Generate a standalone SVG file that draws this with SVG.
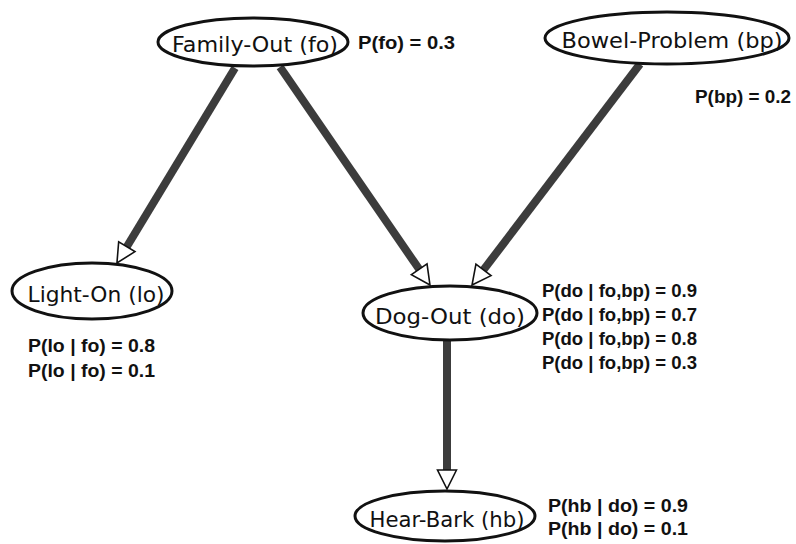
<svg xmlns="http://www.w3.org/2000/svg" width="796" height="544" viewBox="0 0 796 544">
<defs>
<marker id="arr" markerUnits="userSpaceOnUse" markerWidth="24" markerHeight="24" viewBox="-2 -12 24 24" refX="0" refY="0" orient="auto">
<path d="M0,-9.5 L19,0 L0,9.5 Z" fill="#ffffff" stroke="#111111" stroke-width="1.6" stroke-linejoin="miter"/>
</marker>
</defs>
<style>
.node ellipse{fill:#ffffff;stroke:#111111;stroke-width:3}
.lbl{font-family:"DejaVu Sans",Verdana,sans-serif;font-size:22px;fill:#111111;text-anchor:middle}
.p{font-family:"Liberation Sans",Arial,sans-serif;font-size:19px;font-weight:bold;fill:#111111}
.edge{stroke:#3c3c3c;stroke-width:8;fill:none;marker-end:url(#arr)}
</style>
<rect width="796" height="544" fill="#ffffff"/>
<g id="connectors">
<path class="edge" d="M235,68 L126.8,246.7"/>
<path class="edge" d="M280,67 L419.2,269.3"/>
<path class="edge" d="M640,64 L483.5,269.9"/>
<path class="edge" d="M447,340 L447,470"/>
</g>
<g id="node-fo" class="node">
<ellipse cx="253" cy="42" rx="95" ry="24"/>
<text class="lbl" x="255" y="52" textLength="166" lengthAdjust="spacingAndGlyphs">Family-Out (fo)</text>
</g>
<g id="node-bp" class="node">
<ellipse cx="667" cy="38" rx="122" ry="26"/>
<text class="lbl" x="672" y="48" textLength="221" lengthAdjust="spacingAndGlyphs">Bowel-Problem (bp)</text>
</g>
<g id="node-lo" class="node">
<ellipse cx="92" cy="291" rx="80" ry="28"/>
<text class="lbl" x="96" y="302" textLength="137" lengthAdjust="spacingAndGlyphs">Light-On (lo)</text>
</g>
<g id="node-do" class="node">
<ellipse cx="450" cy="313" rx="87" ry="27"/>
<text class="lbl" x="450" y="324" textLength="150" lengthAdjust="spacingAndGlyphs">Dog-Out (do)</text>
</g>
<g id="node-hb" class="node">
<ellipse cx="445" cy="516" rx="90" ry="25"/>
<text class="lbl" x="447" y="527" textLength="155" lengthAdjust="spacingAndGlyphs">Hear-Bark (hb)</text>
</g>
<g id="probabilities">
<text class="p" x="358" y="49" textLength="97" lengthAdjust="spacingAndGlyphs">P(fo) = 0.3</text>
<text class="p" x="695" y="103" textLength="96" lengthAdjust="spacingAndGlyphs">P(bp) = 0.2</text>
<text class="p" x="28" y="352" textLength="127" lengthAdjust="spacingAndGlyphs">P(lo | fo) = 0.8</text>
<text class="p" x="28" y="377" textLength="127" lengthAdjust="spacingAndGlyphs">P(lo | fo) = 0.1</text>
<text class="p" x="542" y="297" textLength="155" lengthAdjust="spacingAndGlyphs">P(do | fo,bp) = 0.9</text>
<text class="p" x="542" y="321" textLength="155" lengthAdjust="spacingAndGlyphs">P(do | fo,bp) = 0.7</text>
<text class="p" x="542" y="345" textLength="155" lengthAdjust="spacingAndGlyphs">P(do | fo,bp) = 0.8</text>
<text class="p" x="542" y="369" textLength="155" lengthAdjust="spacingAndGlyphs">P(do | fo,bp) = 0.3</text>
<text class="p" x="548" y="512" textLength="140" lengthAdjust="spacingAndGlyphs">P(hb | do) = 0.9</text>
<text class="p" x="548" y="535" textLength="140" lengthAdjust="spacingAndGlyphs">P(hb | do) = 0.1</text>
</g>
</svg>
